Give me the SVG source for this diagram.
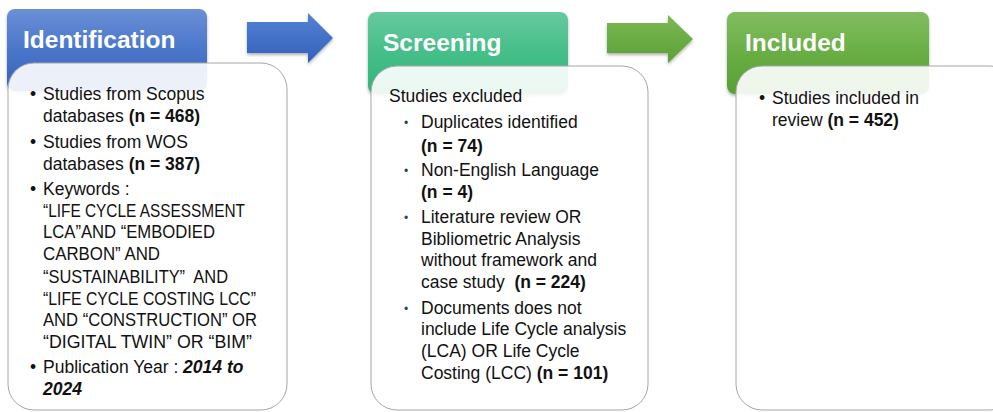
<svg xmlns="http://www.w3.org/2000/svg" width="993" height="412" viewBox="0 0 993 412">
<defs>
<linearGradient id="gBlue" x1="0" y1="0" x2="0" y2="1"><stop offset="0" stop-color="#6a8fd6"/><stop offset="0.5" stop-color="#4a76ca"/><stop offset="1" stop-color="#3462bd"/></linearGradient>
<linearGradient id="gTeal" x1="0" y1="0" x2="0" y2="1"><stop offset="0" stop-color="#66c9a0"/><stop offset="0.5" stop-color="#45be88"/><stop offset="1" stop-color="#33b47c"/></linearGradient>
<linearGradient id="gGreen" x1="0" y1="0" x2="0" y2="1"><stop offset="0" stop-color="#82bd60"/><stop offset="0.5" stop-color="#69ae44"/><stop offset="1" stop-color="#57a034"/></linearGradient>
<linearGradient id="aBlue" x1="0" y1="0" x2="0" y2="1"><stop offset="0" stop-color="#5282d4"/><stop offset="1" stop-color="#3461bb"/></linearGradient>
<linearGradient id="aGreen" x1="0" y1="0" x2="0" y2="1"><stop offset="0" stop-color="#7cb955"/><stop offset="1" stop-color="#5b9f35"/></linearGradient>
<filter id="sh" x="-10%" y="-10%" width="120%" height="130%"><feDropShadow dx="0" dy="2" stdDeviation="1.5" flood-color="#000" flood-opacity="0.3"/></filter>
</defs>
<style>
.t{font-family:"Liberation Sans",Arial,sans-serif;font-size:17.5px;fill:#111}
.b{font-weight:bold}
.bi{font-weight:bold;font-style:italic}
.h{font-family:"Liberation Sans",Arial,sans-serif;font-size:24.5px;font-weight:bold;fill:#fff}
.card{fill:#fff;fill-opacity:0.9;stroke:#a6a6a6;stroke-width:1}
.sd{font-family:"Liberation Sans",Arial,sans-serif;font-size:12px;fill:#2e3f7c}
</style>
<rect width="993" height="412" fill="#fff"/>
<g id="connectors">
<path d="M247 22 H308 V13 L333 38 L308 63 V53 H247 Z" fill="url(#aBlue)" filter="url(#sh)"/>
<path d="M607 23 H668 V15 L693 39 L668 63 V53 H607 Z" fill="url(#aGreen)" filter="url(#sh)"/>
</g>
<g id="identification">
<rect x="7" y="9" width="200" height="82" rx="8" fill="url(#gBlue)" filter="url(#sh)"/>
<text class="h" x="23" y="48">Identification</text>
<rect class="card" x="8" y="63" width="279" height="347" rx="26"/>
<text class="t" x="30" y="100">•</text>
<text class="t" x="43" y="100">Studies from Scopus</text>
<text class="t" x="43" y="122">databases <tspan class="b">(n = 468)</tspan></text>
<text class="t" x="30" y="148">•</text>
<text class="t" x="43" y="148">Studies from WOS</text>
<text class="t" x="43" y="170">databases <tspan class="b">(n = 387)</tspan></text>
<text class="t" x="30" y="195">•</text>
<text class="t" x="43" y="195">Keywords :</text>
<text class="t" x="43" y="217" textLength="202" lengthAdjust="spacingAndGlyphs">“LIFE CYCLE ASSESSMENT</text>
<text class="t" x="43" y="238" textLength="172" lengthAdjust="spacingAndGlyphs">LCA”AND “EMBODIED</text>
<text class="t" x="43" y="260" textLength="117" lengthAdjust="spacingAndGlyphs">CARBON” AND</text>
<text class="t" x="43" y="283" textLength="185" lengthAdjust="spacingAndGlyphs" xml:space="preserve">“SUSTAINABILITY”  AND</text>
<text class="t" x="43" y="305" textLength="213" lengthAdjust="spacingAndGlyphs">“LIFE CYCLE COSTING LCC”</text>
<text class="t" x="43" y="326" textLength="214" lengthAdjust="spacingAndGlyphs">AND “CONSTRUCTION” OR</text>
<text class="t" x="43" y="348" textLength="209" lengthAdjust="spacingAndGlyphs">“DIGITAL TWIN” OR “BIM”</text>
<text class="t" x="30" y="373">•</text>
<text class="t" x="43" y="373">Publication Year : <tspan class="bi">2014 to</tspan></text>
<text class="t bi" x="43" y="395">2024</text>
</g>
<g id="screening">
<rect x="368" y="12" width="200" height="82" rx="8" fill="url(#gTeal)" filter="url(#sh)"/>
<text class="h" x="383" y="51">Screening</text>
<rect class="card" x="371" y="66" width="277" height="344" rx="26"/>
<text class="t" x="389" y="102">Studies excluded</text>
<text class="sd" x="404" y="127">•</text>
<text class="t" x="421" y="128">Duplicates identified</text>
<text class="t b" x="421" y="152">(n = 74)</text>
<text class="sd" x="404" y="175">•</text>
<text class="t" x="421" y="176">Non-English Language</text>
<text class="t b" x="421" y="198">(n = 4)</text>
<text class="sd" x="404" y="222">•</text>
<text class="t" x="421" y="223">Literature review OR</text>
<text class="t" x="421" y="245">Bibliometric Analysis</text>
<text class="t" x="421" y="266">without framework and</text>
<text class="t" x="421" y="288" xml:space="preserve">case study  <tspan class="b">(n = 224)</tspan></text>
<text class="sd" x="404" y="313">•</text>
<text class="t" x="421" y="314">Documents does not</text>
<text class="t" x="421" y="335">include Life Cycle analysis</text>
<text class="t" x="421" y="357">(LCA) OR Life Cycle</text>
<text class="t" x="421" y="379">Costing (LCC) <tspan class="b">(n = 101)</tspan></text>
</g>
<g id="included">
<rect x="727" y="12" width="202" height="82" rx="8" fill="url(#gGreen)" filter="url(#sh)"/>
<text class="h" x="745" y="51">Included</text>
<rect class="card" x="736" y="66" width="280" height="344" rx="26"/>
<text class="t" x="759" y="104">•</text>
<text class="t" x="772" y="104">Studies included in</text>
<text class="t" x="772" y="126">review <tspan class="b">(n = 452)</tspan></text>
</g>
</svg>
